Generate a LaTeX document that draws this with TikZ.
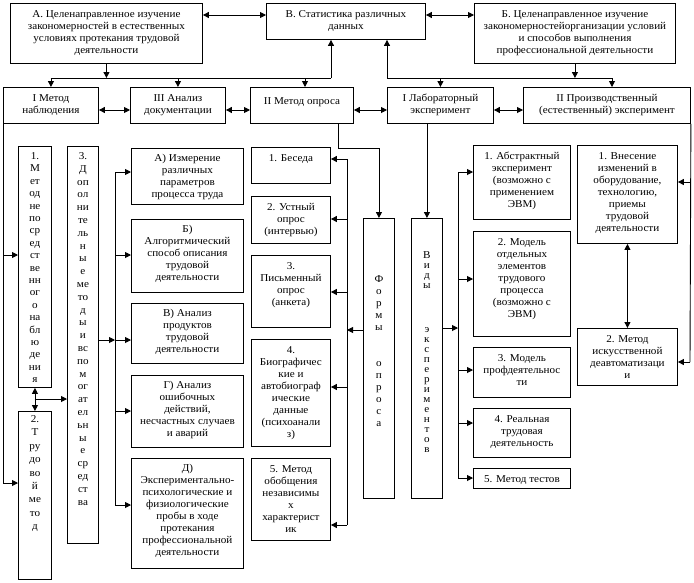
\documentclass[tikz,border=0pt]{standalone}
\usepackage{fontspec}
\setmainfont[FakeStretch=1.06]{Liberation Serif}
\usetikzlibrary{arrows.meta,calc}
\newcommand\tb[4][14.5]{\parbox[c][#3pt][t]{#2pt}{\centering\fontsize{10.5}{12}\selectfont\rule{0pt}{#1pt}#4}}
\newcommand\vt[5]{\parbox[c][#2pt][t]{#1pt}{\centering\fontsize{10.5}{#3}\selectfont\rule{0pt}{#4pt}#5}}
\begin{document}
\begin{tikzpicture}[x=1pt,y=-1pt,
  >={Triangle[length=6pt,width=6pt]},
  box/.style={draw, line width=0.9pt, inner sep=0pt, anchor=north west},
  ln/.style={line width=0.9pt},
  arr/.style={->, line width=0.9pt},
  darr/.style={<->, line width=0.9pt}]
\fill[white] (0,0) rectangle (694,582);
\useasboundingbox (0,0) rectangle (694,582);

% ---------- top row
\node[box] (A) at (10,3) {\tb{192}{60}{А. Целенаправленное изучение\\закономерностей в естественных\\условиях протекания трудовой\\деятельности}};
\node[box] (B) at (266,3) {\tb{159}{36}{В. Статистика различных\\данных}};
\node[box] (C) at (474,3) {\tb{201}{60}{Б. Целенаправленное изучение\\закономерностейорганизации условий\\и способов выполнения\\профессиональной деятельности}};

% ---------- second row
\node[box] (M1) at (3,87) {\tb[14]{95}{36}{I Метод\\наблюдения}};
\node[box] (M3) at (130,87) {\tb[14]{95}{36}{III Анализ\\документации}};
\node[box] (M2) at (250,87) {\tb[17.5]{103}{36}{II Метод опроса}};
\node[box] (L) at (387,87) {\tb[14.5]{106}{36}{I Лабораторный\\эксперимент}};
\node[box] (P) at (523,87) {\tb[14.5]{167}{36}{II Производственный\\(естественный) эксперимент}};

% ---------- left narrow boxes
\node[box] (N1) at (18,146) {\vt{33}{241}{12.4}{13}{1.\\М\\ет\\од\\не\\по\\ср\\ед\\ст\\ве\\нн\\ог\\о\\на\\бл\\ю\\де\\ни\\я}};
\node[box] (N2) at (18,411) {\vt{33}{168}{13.4}{11}{2.\\Т\\ру\\до\\во\\й\\ме\\то\\д}};
\node[box] (N3) at (67,146) {\vt{31}{397}{12.8}{13}{3.\\Д\\оп\\ол\\ни\\те\\ль\\н\\ы\\е\\ме\\то\\д\\ы\\и\\вс\\по\\м\\ог\\ат\\ел\\ьн\\ы\\е\\ср\\ед\\ст\\ва}};

% ---------- documentation analysis boxes
\node[box] (DA) at (131,148) {\tb[13.5]{112}{56}{А) Измерение\\различных\\параметров\\процесса труда}};
\node[box] (DB) at (131,219) {\tb[13.5]{112}{73}{Б)\\Алгоритмический\\способ описания\\трудовой\\деятельности}};
\node[box] (DV) at (131,303) {\tb[13.5]{112}{60}{В) Анализ\\продуктов\\трудовой\\деятельности}};
\node[box] (DG) at (131,375) {\tb[13.5]{112}{72}{Г) Анализ\\ошибочных\\действий,\\несчастных случаев\\и аварий}};
\node[box] (DD) at (131,458) {\tb[13.5]{112}{110}{Д)\\Экспериментально-\\психологические и\\физиологические\\пробы в ходе\\протекания\\профессиональной\\деятельности}};

% ---------- survey boxes
\node[box] (O1) at (251,147) {\tb[14]{79}{36}{1. Беседа}};
\node[box] (O2) at (251,196) {\tb[14]{79}{47}{2. Устный\\опрос\\(интервью)}};
\node[box] (O3) at (251,255) {\tb[14]{79}{72}{3.\\Письменный\\опрос\\(анкета)}};
\node[box] (O4) at (251,339) {\tb[14]{79}{107}{4.\\Биографичес\\кие и\\автобиограф\\ические\\данные\\(психоанали\\з)}};
\node[box] (O5) at (251,458) {\tb[14]{79}{82}{5. Метод\\обобщения\\независимы\\х\\характерист\\ик}};

% ---------- vertical label boxes
\node[box] (F) at (363,218) {\vt{31}{280}{12}{64}{Ф\\о\\р\\м\\ы\\[24pt]о\\п\\р\\о\\с\\а}};
\node[box] (V) at (411,218) {\vt{31}{280}{10}{40}{В\\и\\д\\ы\\[34pt]э\\к\\с\\п\\е\\р\\и\\м\\е\\н\\т\\о\\в}};

% ---------- experiment kinds
\node[box] (E1) at (473,145) {\tb[14]{97}{74}{1. Абстрактный\\эксперимент\\(возможно с\\применением\\ЭВМ)}};
\node[box] (E2) at (473,231) {\tb[14]{97}{105}{2. Модель\\отдельных\\элементов\\трудового\\процесса\\(возможно с\\ЭВМ)}};
\node[box] (E3) at (473,347) {\tb[14]{97}{50}{3. Модель\\профдеятельнос\\ти}};
\node[box] (E4) at (473,408) {\tb[14]{97}{49}{4. Реальная\\трудовая\\деятельность}};
\node[box] (E5) at (473,468) {\tb[14]{97}{20}{5. Метод тестов}};

% ---------- production experiment boxes
\node[box] (R1) at (577,145) {\tb[14]{100}{98}{1. Внесение\\изменений в\\оборудование,\\технологию,\\приемы\\трудовой\\деятельности}};
\node[box] (R2) at (577,328) {\tb[14]{100}{57}{2. Метод\\искусственной\\деавтоматизаци\\и}};

% ---------- top connectors
\draw[darr] ($(A.north east)+(0,12)$) -- ($(B.north west)+(0,12)$);
\draw[darr] ($(B.north east)+(0,12)$) -- ($(C.north west)+(0,12)$);
\coordinate (bl1) at (50.5,78);
\coordinate (bl2) at (331,78);
\coordinate (br1) at (387,78);
\coordinate (br2) at (612,78);
\coordinate (m2in) at (305,78);
\draw[ln] (bl1) -- (bl2);
\draw[ln] (br1) -- (br2);
\draw[arr] (bl2) -- (bl2 |- B.south);
\draw[arr] (br1) -- (br1 |- B.south);
\draw[arr] (A.south) -- (A.south |- bl1);
\draw[arr] (C.south) -- (C.south |- br1);
\draw[arr] (M1.north |- bl1) -- (M1.north);
\draw[arr] (M3.north |- bl1) -- (M3.north);
\draw[arr] (m2in) -- (m2in |- M2.north);
\draw[arr] (L.north |- br1) -- (L.north);
\draw[arr] (br2) -- (br2 |- P.north);

% ---------- second row links
\draw[darr] ($(M1.north east)+(0,23)$) -- ($(M3.north west)+(0,23)$);
\draw[darr] ($(M3.north east)+(0,23)$) -- ($(M2.north west)+(0,23)$);
\draw[darr] ($(M2.north east)+(0,23)$) -- ($(L.north west)+(0,23)$);
\draw[darr] ($(L.north east)+(0,23)$) -- ($(P.north west)+(0,23)$);

% ---------- observation method
\coordinate (lb1) at (3,255);
\coordinate (lb2) at (3,483);
\draw[ln] (M1.south west) -- (lb2);
\draw[arr] (lb1) -- (lb1 -| N1.west);
\draw[arr] (lb2) -- (lb2 -| N2.west);
\draw[darr] (N1.south) -- (N2.north);
\coordinate (nb) at (34.5,399);
\draw[arr] (nb) -- (nb -| N3.west);

% ---------- documentation analysis bus
\coordinate (mb) at (115,340);
\coordinate (mb1) at (115,172);
\coordinate (mb2) at (115,255);
\coordinate (mb4) at (115,411);
\coordinate (mb5) at (115,505);
\draw[arr] (N3.east |- mb) -- (mb);
\draw[ln] (mb1) -- (mb5);
\draw[arr] (mb1) -- (mb1 -| DA.west);
\draw[arr] (mb2) -- (mb2 -| DB.west);
\draw[arr] (mb) -- (mb -| DV.west);
\draw[arr] (mb4) -- (mb4 -| DG.west);
\draw[arr] (mb5) -- (mb5 -| DD.west);

% ---------- survey
\coordinate (m2a) at (338,148);
\draw[arr] (m2a |- M2.south) -- (m2a) -- (m2a -| F.north) -- (F.north);
\coordinate (fo) at (347,330);
\coordinate (ob1) at (347,159);
\coordinate (ob2) at (347,219);
\coordinate (ob3) at (347,292);
\coordinate (ob4) at (347,387);
\coordinate (ob5) at (347,525);
\draw[arr] (F.west |- fo) -- (fo);
\draw[ln] (ob1) -- (ob5);
\draw[arr] (ob1) -- (ob1 -| O1.east);
\draw[arr] (ob2) -- (ob2 -| O2.east);
\draw[arr] (ob3) -- (ob3 -| O3.east);
\draw[arr] (ob4) -- (ob4 -| O4.east);
\draw[arr] (ob5) -- (ob5 -| O5.east);

% ---------- laboratory experiment
\draw[arr] (V.north |- L.south) -- (V.north);
\coordinate (vb) at (458,328);
\coordinate (eb1) at (458,172);
\coordinate (eb2) at (458,279);
\coordinate (eb3) at (458,370);
\coordinate (eb4) at (458,423);
\coordinate (eb5) at (458,478);
\draw[arr] (V.east |- vb) -- (vb);
\draw[ln] (eb1) -- (eb5);
\draw[arr] (eb1) -- (eb1 -| E1.west);
\draw[arr] (eb2) -- (eb2 -| E2.west);
\draw[arr] (eb3) -- (eb3 -| E3.west);
\draw[arr] (eb4) -- (eb4 -| E4.west);
\draw[arr] (eb5) -- (eb5 -| E5.west);

% ---------- production experiment
\coordinate (pr1) at (690,182);
\coordinate (pr2) at (690,362);
\draw[ln] (P.south east) -- (pr2);
\draw[arr] (pr1) -- (pr1 -| R1.east);
\draw[arr] (pr2) -- (pr2 -| R2.east);
\draw[darr] (R1.south) -- (R2.north);
\end{tikzpicture}
\end{document}
